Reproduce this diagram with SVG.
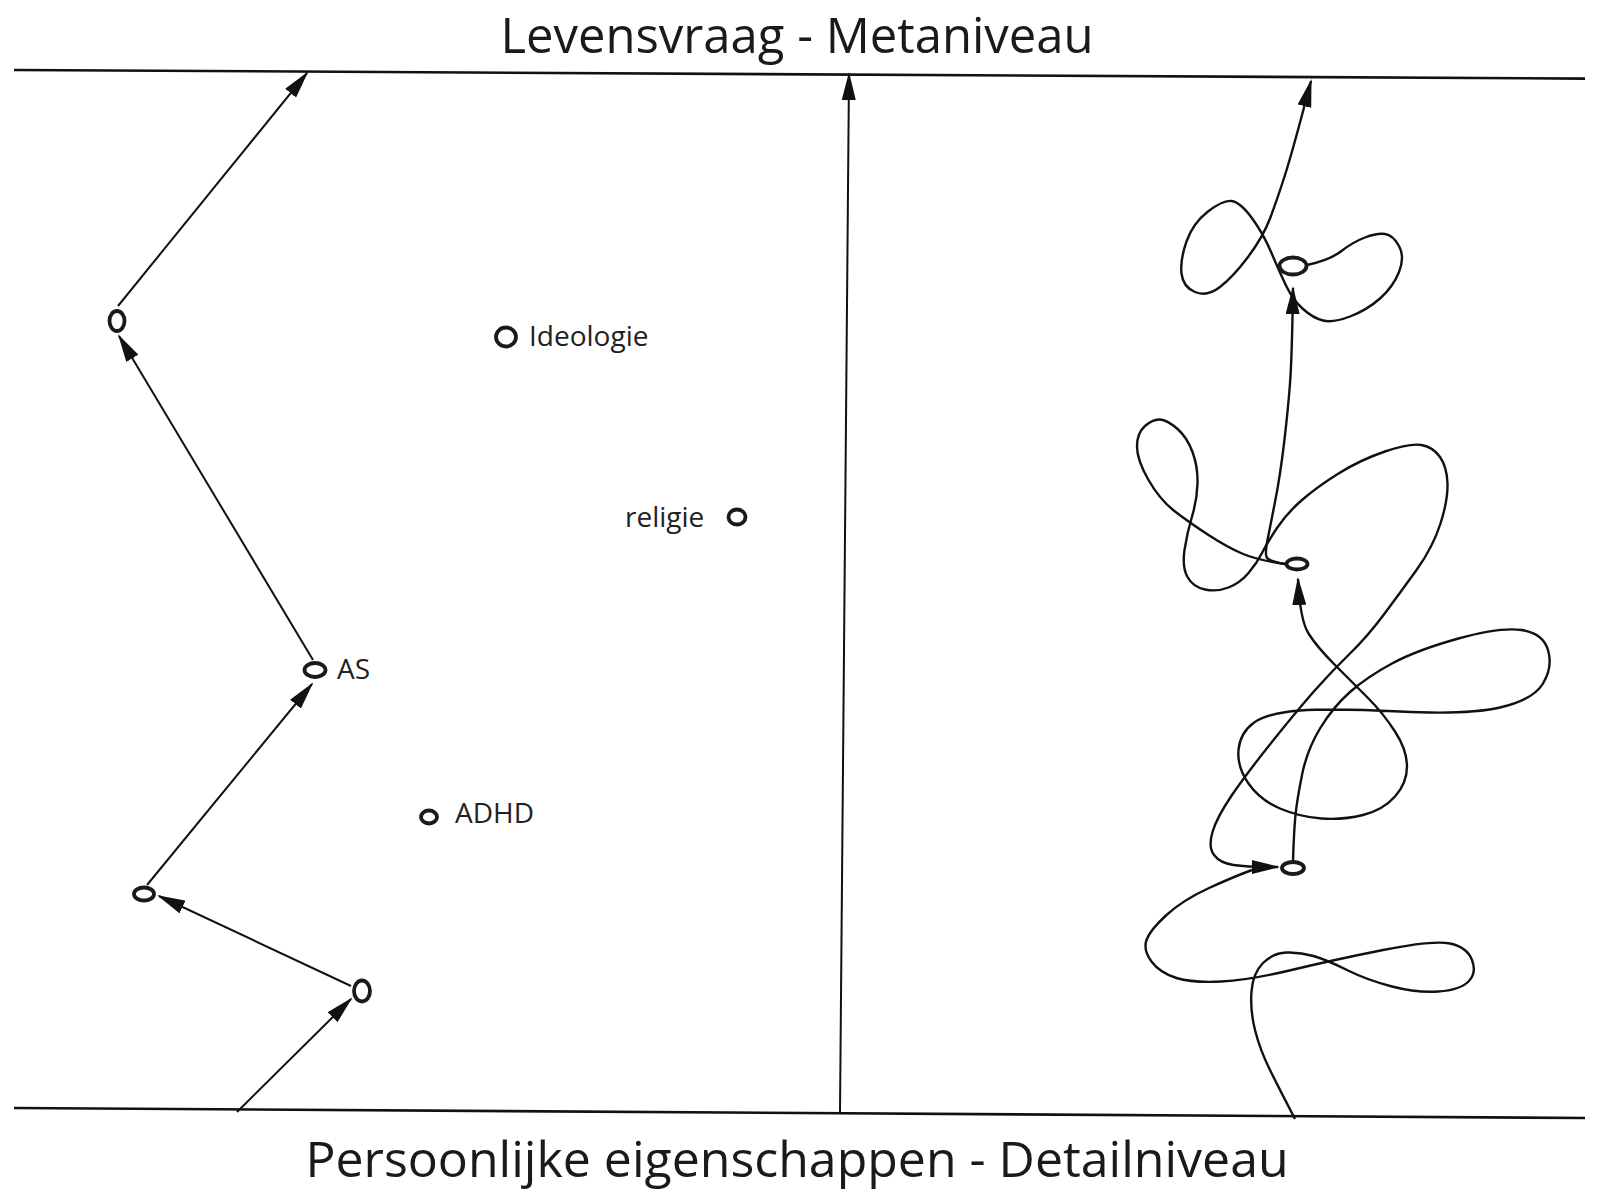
<svg xmlns="http://www.w3.org/2000/svg" width="1600" height="1193" viewBox="0 0 1600 1193">
<style>
  .title { font-family: "Open Sans", "Liberation Sans", sans-serif; font-size: 50px; fill: #1a1a1a; text-anchor: middle; }
  .top { font-size: 49px; }
  .lbl { font-family: "Open Sans", "Liberation Sans", sans-serif; font-size: 28px; fill: #222; }
  .node { fill: none; stroke: #1a1a1a; stroke-width: 3.8; }
  .edge { fill: none; stroke: #111; stroke-width: 2; }
  .curve { fill: none; stroke: #111; stroke-width: 2.4; stroke-linejoin: round; }
  .band { fill: none; stroke: #111; stroke-width: 2.6; }
</style>
<defs>
  <marker id="arr" viewBox="0 0 28 14" refX="26" refY="7" markerWidth="28" markerHeight="14" markerUnits="userSpaceOnUse" orient="auto">
    <path d="M0,0 L28,7 L0,14 z" fill="#111"/>
  </marker>
</defs>
<rect width="1600" height="1193" fill="#fff"/>

<g id="frame">
  <line class="band" x1="14" y1="70" x2="1585" y2="78.6"/>
  <line class="band" x1="14" y1="1108" x2="1585" y2="1118"/>
  <text class="title top" x="797" y="53">Levensvraag - Metaniveau</text>
  <text class="title" x="797" y="1177">Persoonlijke eigenschappen - Detailniveau</text>
</g>

<g id="connectors">
  <!-- left chain -->
  <path class="edge" d="M237,1112 L351,999" marker-end="url(#arr)"/>
  <path class="edge" d="M351,986 L159,896" marker-end="url(#arr)"/>
  <path class="edge" d="M147,885 L312,684" marker-end="url(#arr)"/>
  <path class="edge" d="M313,660 L119,336" marker-end="url(#arr)"/>
  <path class="edge" d="M118,306 L307,73" marker-end="url(#arr)"/>
  <!-- middle -->
  <path class="edge" d="M840,1112 L849,74" marker-end="url(#arr)"/>
  <!-- right: from bottom line to bottom node -->
  <path class="curve" d="M1295,1119 Q1280,1090 1270,1070 Q1260,1050 1255,1030 Q1250,1010 1251.5,991.5 Q1253,973 1263,963 Q1273,953 1286.5,952.5 Q1300,952 1313.5,956 Q1327,960 1347,970 Q1367,980 1392,986.5 Q1417,993 1438.5,991.5 Q1460,990 1468.5,981.5 Q1477,973 1472,960 Q1467,947 1450,943.5 Q1433,940 1383,950 Q1333,960 1291.5,970 Q1250,980 1221.5,981.5 Q1193,983 1176.5,978 Q1160,973 1151.5,961.5 Q1143,950 1146.5,940 Q1150,930 1166.5,915 Q1183,900 1208,888.5 Q1233,877 1252,870"/>
  <!-- bottom node to mid node -->
  <path class="curve" d="M1293,861 Q1294,830 1295.5,815 Q1297,800 1302,775 Q1307,750 1320,728.5 Q1333,707 1350,692 Q1367,677 1392,663.5 Q1417,650 1458.5,638.5 Q1500,627 1521.5,630 Q1543,633 1548,650 Q1553,667 1543,683.5 Q1533,700 1500,707.5 Q1467,715 1400,711.5 Q1333,708 1300,710.5 Q1267,713 1253.5,723 Q1240,733 1238.5,750 Q1237,767 1248.5,783.5 Q1260,800 1280,808.5 Q1300,817 1321.5,818.5 Q1343,820 1363,815 Q1383,810 1395,796.5 Q1407,783 1407,766.5 Q1407,750 1395,731.5 Q1383,713 1368,698 Q1353,683 1335,665 Q1317,647 1308.5,633.5 Q1300,620 1298,579" marker-end="url(#arr)"/>
  <!-- mid node loops back to bottom node -->
  <path class="curve" d="M1285,564 Q1257,560 1242,553.5 Q1227,547 1208.5,535 Q1190,523 1175,511.5 Q1160,500 1148.5,480 Q1137,460 1137,446.5 Q1137,433 1145,426 Q1153,419 1160,419.5 Q1167,420 1177,428.5 Q1187,437 1192.5,452 Q1198,467 1197.5,483.5 Q1197,500 1192,516.5 Q1187,533 1184.5,550 Q1182,567 1187.5,577 Q1193,587 1205,589.5 Q1217,592 1228.5,587.5 Q1240,583 1248.5,573 Q1257,563 1262,553 Q1267,543 1277,528 Q1287,513 1302,500 Q1317,487 1338.5,473.5 Q1360,460 1385,451.5 Q1410,443 1421.5,445 Q1433,447 1440,457 Q1447,467 1447.5,483.5 Q1448,500 1440.5,523.5 Q1433,547 1416.5,570 Q1400,593 1383.5,615 Q1367,637 1350,653.5 Q1333,670 1316.5,688.5 Q1300,707 1273.5,740 Q1247,773 1232,795 Q1217,817 1212.5,832 Q1208,847 1214,855 Q1220,863 1233.5,865 Q1247,867 1278,867" marker-end="url(#arr)"/>
  <!-- mid node to top node -->
  <path class="curve" d="M1285,564 Q1268,561 1266.5,557 Q1265,553 1267.5,540 Q1270,527 1275,502 Q1280,477 1284,443.5 Q1288,410 1290,383.5 Q1292,357 1293,288" marker-end="url(#arr)"/>
  <!-- top node loops to top line -->
  <path class="curve" d="M1307,265 Q1330,260 1341.5,251 Q1353,242 1365,237.5 Q1377,233 1385,234 Q1393,235 1399,246 Q1405,257 1399,272 Q1393,287 1380,298.5 Q1367,310 1350,316.5 Q1333,323 1323,320.5 Q1313,318 1303,309 Q1293,300 1286.5,286.5 Q1280,273 1271.5,253 Q1263,233 1251.5,217.5 Q1240,202 1231.5,201 Q1223,200 1208,211.5 Q1193,223 1186.5,241.5 Q1180,260 1181.5,273.5 Q1183,287 1195,292 Q1207,297 1220,287 Q1233,277 1248,257 Q1263,237 1270,218.5 Q1277,200 1285,175 Q1293,150 1311,81" marker-end="url(#arr)"/>
</g>

<g id="node-n1"><ellipse class="node" cx="362" cy="991" rx="8" ry="10.5"/></g>
<g id="node-n2"><ellipse class="node" cx="144" cy="894" rx="10" ry="6.5"/></g>
<g id="node-as"><ellipse class="node" cx="315" cy="670" rx="10.5" ry="7"/><text class="lbl" x="337" y="679">AS</text></g>
<g id="node-n4"><ellipse class="node" cx="117" cy="321" rx="7.5" ry="10"/></g>
<g id="node-ideologie"><ellipse class="node" cx="506" cy="337" rx="10" ry="9.5"/><text class="lbl" x="529" y="346">Ideologie</text></g>
<g id="node-religie"><text class="lbl" x="625" y="527">religie</text><ellipse class="node" cx="737" cy="517" rx="8.5" ry="7.5"/></g>
<g id="node-adhd"><ellipse class="node" cx="429" cy="817" rx="8" ry="6.5"/><text class="lbl" x="455" y="823">ADHD</text></g>
<g id="node-r-top"><ellipse class="node" cx="1293" cy="266" rx="13.5" ry="8.5"/></g>
<g id="node-r-mid"><ellipse class="node" cx="1297" cy="564" rx="10.5" ry="5.5"/></g>
<g id="node-r-bottom"><ellipse class="node" cx="1293" cy="868" rx="11" ry="6"/></g>
</svg>
